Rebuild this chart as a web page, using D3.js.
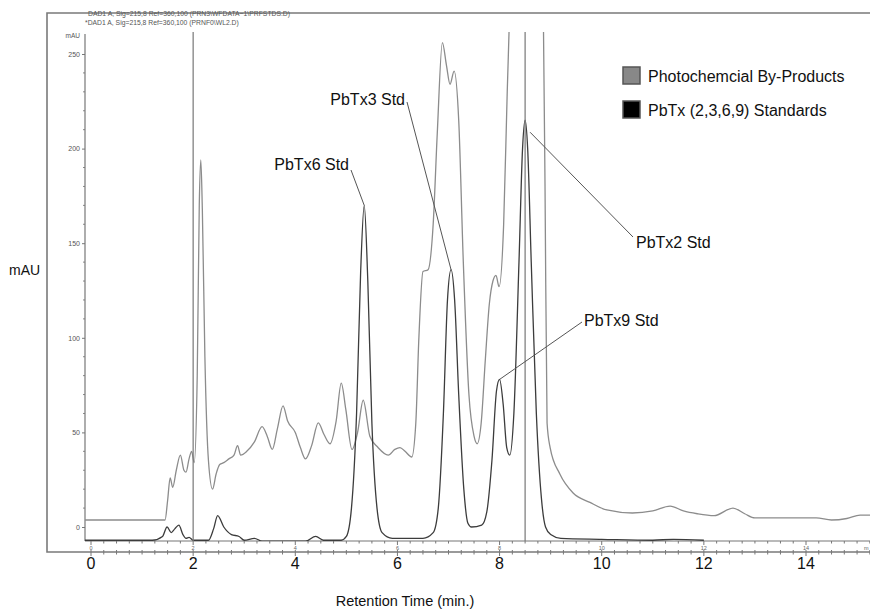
<!DOCTYPE html>
<html>
<head>
<meta charset="utf-8">
<script src="https://cdn.jsdelivr.net/npm/d3@7"></script>
<style>
  html, body { margin: 0; padding: 0; background: #fff; }
  svg { display: block; font-family: "Liberation Sans", Arial, sans-serif; }
</style>
</head>
<body>
<div id="chart"></div>
<script>
// retention times (min) and absorbance (mAU)
const byTime = [-0.12, 1.45, 1.5, 1.55, 1.6, 1.67, 1.75, 1.82, 1.86, 1.92, 1.97, 2.02, 2.08, 2.12, 2.15, 2.18, 2.23, 2.3, 2.38, 2.45, 2.52, 2.6, 2.7, 2.8, 2.87, 2.93, 3.05, 3.2, 3.35, 3.45, 3.55, 3.65, 3.76, 3.85, 4.0, 4.1, 4.2, 4.32, 4.45, 4.56, 4.68, 4.8, 4.9, 4.99, 5.11, 5.22, 5.33, 5.46, 5.62, 5.82, 5.95, 6.05, 6.15, 6.28, 6.36, 6.42, 6.5, 6.6, 6.7, 6.78, 6.88, 6.96, 7.03, 7.11, 7.2, 7.29, 7.4, 7.5, 7.56, 7.64, 7.72, 7.8, 7.87, 7.93, 7.99, 8.08, 8.15, 8.2, 8.3, 8.5, 8.75, 8.85, 8.89, 8.93, 8.99, 9.18, 9.44, 9.77, 10.1, 10.6, 11.0, 11.34, 11.6, 11.87, 12.2, 12.57, 12.8, 13.0, 13.6, 14.2, 14.5, 14.8, 15.06, 15.3];
const byVal = [3.7, 3.7, 14, 26, 21, 30, 38, 30, 29, 36, 40, 34, 80, 170, 194, 168, 90, 35, 20, 28, 33, 34, 36, 38, 43, 38, 40, 45, 53, 48, 41, 52, 64, 56, 50, 42, 36, 43, 55, 49, 44, 56, 76, 62, 41, 50, 67, 48, 42, 38, 41, 42, 40, 37, 55, 100, 135, 136, 160, 208, 256, 244, 234, 241, 215, 140, 70, 48, 44, 55, 88, 118, 130, 133, 127, 160, 230, 275, 400, 500, 400, 290, 180, 55, 42, 28, 18, 13, 9, 7.4, 8.5, 11, 8.5, 7, 6, 10, 7, 4.8, 4.8, 4.8, 3.7, 4.5, 6.3, 6.3];

const stdTime = [-0.12, 1.2, 1.4, 1.49, 1.57, 1.64, 1.72, 1.8, 1.86, 1.92, 2.0, 2.3, 2.4, 2.48, 2.6, 2.75, 2.9, 3.0, 3.2, 3.35, 4.2, 4.4, 4.55, 4.9, 5.0, 5.1, 5.2, 5.28, 5.35, 5.42, 5.5, 5.6, 5.7, 5.9, 6.5, 6.7, 6.8, 6.9, 6.98, 7.05, 7.12, 7.2, 7.3, 7.38, 7.45, 7.65, 7.75, 7.85, 7.94, 8.0, 8.07, 8.14, 8.2, 8.28, 8.38, 8.45, 8.5, 8.55, 8.62, 8.72, 8.82, 8.9, 9.0, 9.2, 10.0, 11.0, 11.4, 12.0];
const stdVal = [-7, -7, -5, 0, -3, -1, 1, -4, -6, -5.5, -7, -7, -1, 6, 0, -4, -5, -7, -6, -7.5, -7.5, -5, -7, -7, -5, 10, 60, 135, 170, 130, 55, 10, -3, -6, -6, -3, 10, 60, 120, 136, 120, 70, 20, 2, 0, 1, 8, 35, 72, 78, 65, 42, 38, 60, 140, 200, 215, 200, 140, 60, 15, 0, -4, -6, -6.5, -7, -6.5, -7];

const peakLabels = ["PbTx6 Std", "PbTx3 Std", "PbTx9 Std", "PbTx2 Std"];
const peakTimes = [5.35, 7.05, 8.0, 8.5];
const peakVals = [170, 136, 78, 215];

const markerTimes = [2.0, 8.5];
const legendLabels = ["Photochemcial By-Products", "PbTx (2,3,6,9) Standards"];
const outerTicks = [0, 2, 4, 6, 8, 10, 12, 14];
const yTicks = [0, 50, 100, 150, 200, 250];
const headerLines = [
  "DAD1 A, Sig=215,8 Ref=360,100 (PRN3\\WFDATA~1\\PRFSTDS.D)",
  "*DAD1 A, Sig=215,8 Ref=360,100 (PRNF0\\WL2.D)"
];

const W = 870, H = 611;
const svg = d3.select("#chart").append("svg").attr("width", W).attr("height", H);

const x = d3.scaleLinear().domain([0, 14]).range([91, 806]);
const y = d3.scaleLinear().domain([0, 250]).range([527, 54]);

const plotTop = 32, innerAxisY = 541, innerLeft = 85, outerAxisY = 552;

// outer frame
svg.append("path")
  .attr("d", `M${W},13 H47 V${outerAxisY} H${W}`)
  .attr("fill", "none").attr("stroke", "#7a7a7a").attr("stroke-width", 1.6);

// header lines
svg.selectAll("text.hdr").data(headerLines).enter().append("text")
  .attr("class", "hdr")
  .attr("x", (d, i) => i ? 85 : 88).attr("y", (d, i) => 16 + i * 8.5)
  .attr("font-size", 6.8).attr("fill", "#555").text(d => d);

// inner y axis
const yAxis = d3.axisLeft(y).tickValues(yTicks).tickSize(3).tickPadding(2).tickSizeOuter(0);
const yg = svg.append("g").attr("transform", `translate(${innerLeft},0)`).call(yAxis);
yg.select(".domain").remove();
yg.selectAll("text").attr("font-size", 7).attr("fill", "#555").attr("font-family", "Liberation Sans, Arial");
yg.selectAll("line").attr("stroke", "#777");
svg.append("g").selectAll("line").data(d3.range(0, 260, 10).filter(v => v % 50)).enter().append("line")
  .attr("x1", innerLeft - 2).attr("x2", innerLeft)
  .attr("y1", d => y(d)).attr("y2", d => y(d))
  .attr("stroke", "#888");
svg.append("line").attr("x1", innerLeft).attr("x2", innerLeft)
  .attr("y1", 34).attr("y2", innerAxisY).attr("stroke", "#777").attr("stroke-width", 1.2);
svg.append("text").attr("x", 80).attr("y", 38).attr("text-anchor", "end")
  .attr("font-size", 6.5).attr("fill", "#555").text("mAU");

// inner x axis
svg.append("line").attr("x1", innerLeft).attr("x2", W)
  .attr("y1", innerAxisY).attr("y2", innerAxisY).attr("stroke", "#777").attr("stroke-width", 1.2);
const minorT = d3.range(0, 15.3, 0.25);
svg.append("g").selectAll("line").data(minorT).enter().append("line")
  .attr("x1", d => x(d)).attr("x2", d => x(d))
  .attr("y1", innerAxisY).attr("y2", d => innerAxisY + (d % 2 === 0 ? 4 : 2.5))
  .attr("stroke", "#777");
svg.append("g").selectAll("text").data(outerTicks).enter().append("text")
  .attr("x", d => x(d)).attr("y", 549.5).attr("text-anchor", "middle")
  .attr("font-size", 5.5).attr("fill", "#666").text(d => d);
svg.append("text").attr("x", 864).attr("y", 549.5).attr("font-size", 5.5).attr("fill", "#666").text("m");

// outer x axis
svg.append("g").selectAll("line").data(minorT).enter().append("line")
  .attr("x1", d => x(d)).attr("x2", d => x(d))
  .attr("y1", outerAxisY - 2).attr("y2", d => outerAxisY + (d % 2 === 0 ? 4 : 2.5))
  .attr("stroke", "#777");
svg.append("g").selectAll("text").data(outerTicks).enter().append("text")
  .attr("x", d => x(d)).attr("y", 569).attr("text-anchor", "middle")
  .attr("font-size", 16).attr("fill", "#111").text(d => d);

// traces, clipped to the plot area
svg.append("clipPath").attr("id", "clip").append("rect")
  .attr("x", innerLeft).attr("y", plotTop).attr("width", W - innerLeft).attr("height", innerAxisY - plotTop);
const plot = svg.append("g").attr("clip-path", "url(#clip)");

const line = d3.line().x(d => x(d[0])).y(d => y(d[1])).curve(d3.curveMonotoneX);
plot.append("path").datum(d3.zip(byTime, byVal))
  .attr("d", line).attr("fill", "none").attr("stroke", "#8c8c8c").attr("stroke-width", 1.3);
plot.append("path").datum(d3.zip(stdTime, stdVal))
  .attr("d", line).attr("fill", "none").attr("stroke", "#3c3c3c").attr("stroke-width", 1.3);

// retention markers
svg.selectAll("line.marker").data(markerTimes).enter().append("line")
  .attr("class", "marker")
  .attr("x1", d => x(d)).attr("x2", d => x(d))
  .attr("y1", plotTop).attr("y2", innerAxisY)
  .attr("stroke", "#777").attr("stroke-width", 1.2);

// peak annotations
const labelPos = [[349, 170, "end", 2, 0], [405, 105, "end", 2, -3], [584, 326, "start", -2, -4], [636, 248, "start", -3, -11]];
peakLabels.forEach((lab, i) => {
  const [lx, ly, anchor, dx, dy] = labelPos[i];
  svg.append("line")
    .attr("x1", lx + dx).attr("y1", ly + dy)
    .attr("x2", x(peakTimes[i]) + (i === 3 ? 5 : 0)).attr("y2", y(peakVals[i]) + (i === 3 ? 12 : 0))
    .attr("stroke", "#555").attr("stroke-width", 1);
  svg.append("text").attr("x", lx).attr("y", ly).attr("text-anchor", anchor)
    .attr("font-size", 16).attr("fill", "#111").text(lab);
});

// legend
const legFill = ["#888", "#000"];
legendLabels.forEach((lab, i) => {
  svg.append("rect").attr("x", 623).attr("y", 67 + i * 34).attr("width", 17).attr("height", 17)
    .attr("fill", legFill[i]).attr("stroke", "#555").attr("stroke-width", 1.5);
  svg.append("text").attr("x", 648).attr("y", 82 + i * 34)
    .attr("font-size", 16).attr("fill", "#111").text(lab);
});

// axis titles
svg.append("text").attr("x", 9).attr("y", 275).attr("font-size", 14).attr("fill", "#111").text("mAU");
svg.append("text").attr("x", 405).attr("y", 606).attr("text-anchor", "middle")
  .attr("font-size", 14.5).attr("fill", "#111").text("Retention Time (min.)");
</script>
</body>
</html>
